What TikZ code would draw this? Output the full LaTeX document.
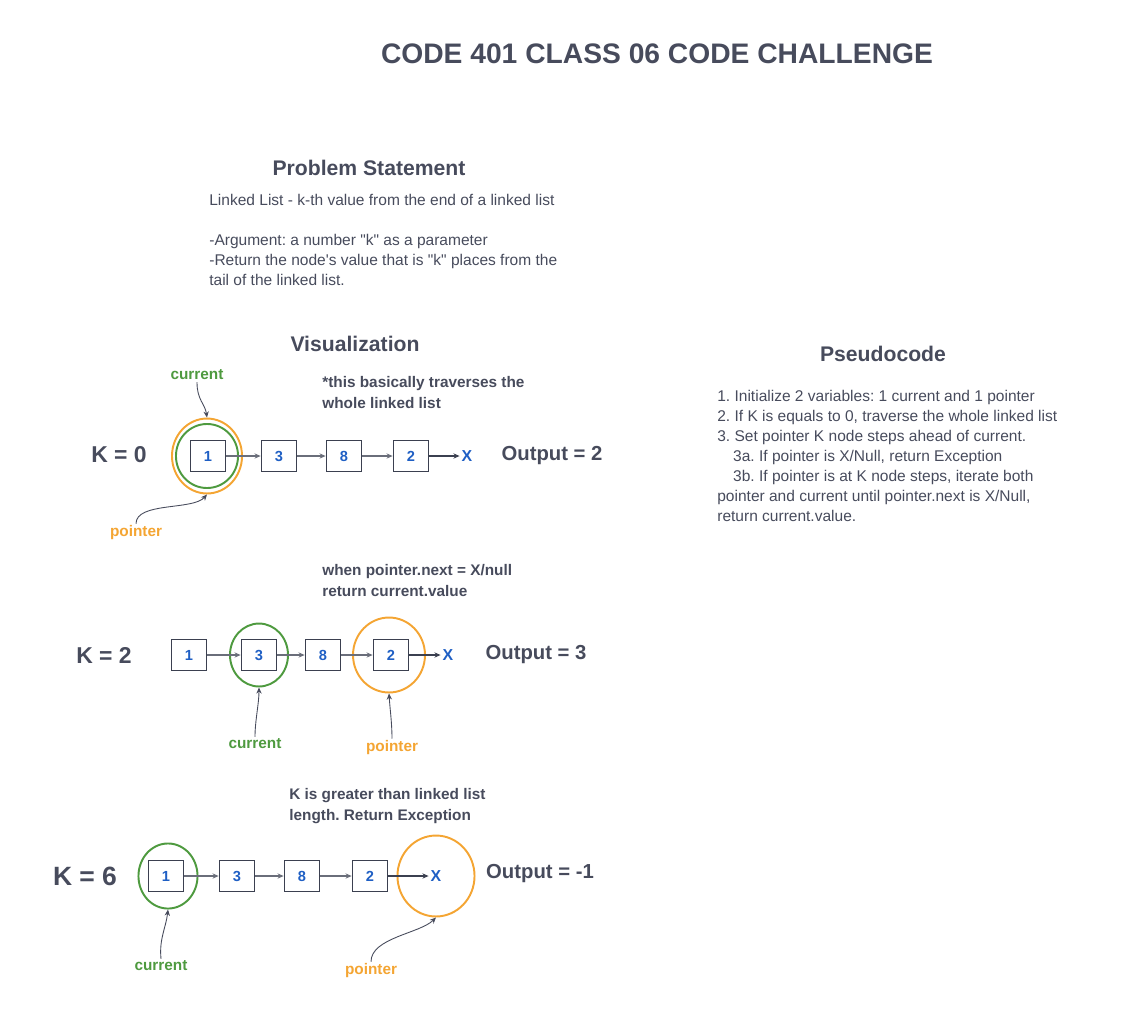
\documentclass[tikz,border=0pt]{standalone}
\usepackage{fontspec}
\setmainfont{Liberation Sans}
\usetikzlibrary{positioning,shapes.geometric,arrows.meta}
\definecolor{inkgray}{HTML}{474B5C}
\definecolor{valblue}{HTML}{1F5FC4}
\definecolor{curgreen}{HTML}{4E9A3F}
\definecolor{ptrorange}{HTML}{F4A533}
\definecolor{boxgray}{HTML}{3B4050}
\definecolor{linkgray}{HTML}{6A6E7A}
\frenchspacing

\begin{document}
\begin{tikzpicture}[x=0.567pt,y=-0.567pt]
  \tikzstyle{heading}=[text=inkgray, font=\bfseries\fontsize{12}{14}\selectfont]
  \tikzstyle{body}=[text=inkgray, font=\fontsize{8.8}{11.3}\selectfont, align=left, anchor=north west, inner sep=0pt]
  \tikzstyle{note}=[text=inkgray, font=\bfseries\fontsize{8.7}{11.8}\selectfont, align=left, anchor=north west, inner sep=0pt]
  \tikzstyle{kval}=[text=inkgray, font=\bfseries\fontsize{13}{15}\selectfont]
  \tikzstyle{result}=[text=inkgray, font=\bfseries\fontsize{11.5}{13}\selectfont]
  \tikzstyle{listnode}=[rectangle, draw=boxgray, line width=1pt, minimum width=19.8pt, minimum height=17.5pt, inner sep=0pt, text=valblue, font=\bfseries\fontsize{8.3}{9}\selectfont]
  \tikzstyle{nullend}=[text=valblue, font=\bfseries\fontsize{9}{10}\selectfont, inner sep=1pt]
  \tikzstyle{curring}=[ellipse, draw=curgreen, line width=1.1pt, inner sep=0pt]
  \tikzstyle{ptrring}=[ellipse, draw=ptrorange, line width=1.1pt, inner sep=0pt]
  \tikzstyle{curtag}=[text=curgreen, font=\bfseries\fontsize{8.7}{10}\selectfont, inner sep=1pt]
  \tikzstyle{ptrtag}=[text=ptrorange, font=\bfseries\fontsize{8.7}{10}\selectfont, inner sep=1pt]
  \tikzstyle{link}=[draw=linkgray, line width=0.6pt, -{Stealth[length=3.5pt,width=3pt]}]
  \tikzstyle{marker}=[draw=inkgray, line width=0.5pt, -{Stealth[length=3.5pt,width=3pt]}]

  \useasboundingbox (0,0) rectangle (1138,1025);

  % headings and text
  \node[text=inkgray, font=\bfseries\fontsize{16}{18}\selectfont] (title) at (657,54) {CODE 401 CLASS 06 CODE CHALLENGE};
  \node[heading] (problem) at (369,168) {Problem Statement};
  \node[body] (probtext) at (209,194) {Linked List - k-th value from the end of a linked list\\[11.3pt]
    -Argument: a number \textquotedbl k\textquotedbl{} as a parameter\\
    -Return the node\textquotesingle s value that is \textquotedbl k\textquotedbl{} places from the\\
    tail of the linked list.};
  \node[heading] (visual) at (355,344) {Visualization};
  \node[heading] (pseudo) at (883,354) {Pseudocode};
  \node[body] (pseudotext) at (717,390) {1. Initialize 2 variables: 1 current and 1 pointer\\
    2. If K is equals to 0, traverse the whole linked list\\
    3. Set pointer K node steps ahead of current.\\
    \hspace*{9pt}3a. If pointer is X/Null, return Exception\\
    \hspace*{9pt}3b. If pointer is at K node steps, iterate both\\
    pointer and current until pointer.next is X/Null,\\
    return current.value.};

  % K = 0
  \node[kval] (k0) at (119,455) {K = 0};
  \node[curring, minimum width=35.2pt, minimum height=36.3pt] (ringA1) at (207,456) {};
  \node[ptrring, minimum width=39.7pt, minimum height=42.5pt] (ringA2) at (207,456) {};
  \node[listnode] (a1) at (208,456) {1};
  \node[listnode] (a2) at (279,456) {3};
  \node[listnode] (a3) at (344,456) {8};
  \node[listnode] (a4) at (411,456) {2};
  \node[nullend] (xa) at (467,456) {X};
  \node[result] (outa) at (552,456) {Output = 2};
  \node[curtag] (cura) at (197,375) {current};
  \node[ptrtag] (ptra) at (136,533) {pointer};
  \node[note] (notea) at (322,376) {*this basically traverses the\\whole linked list};
  \draw[link] (a1) -- (a2);
  \draw[link] (a2) -- (a3);
  \draw[link] (a3) -- (a4);
  \draw[link, draw=boxgray] (a4) -- (xa);
  \draw[marker] (cura.south) .. controls +(0,18) and +(-2,-14) .. (ringA2.north);
  \draw[marker] (ptra.north) .. controls +(0,-22) and +(-14,16) .. (ringA2.south);

  % K = 2
  \node[kval] (k2) at (104,655) {K = 2};
  \node[curring, minimum width=32.9pt, minimum height=35.7pt] (ringB1) at (259,655) {};
  \node[ptrring, minimum width=40.8pt, minimum height=42.5pt] (ringB2) at (389,655) {};
  \node[listnode] (b1) at (189,655) {1};
  \node[listnode] (b2) at (259,655) {3};
  \node[listnode] (b3) at (323,655) {8};
  \node[listnode] (b4) at (391,655) {2};
  \node[nullend] (xb) at (448,655) {X};
  \node[result] (outb) at (536,655) {Output = 3};
  \node[curtag] (curb) at (255,744) {current};
  \node[ptrtag] (ptrb) at (392,748) {pointer};
  \node[note] (noteb) at (322,564) {when pointer.next = X/null\\return current.value};
  \draw[link] (b1) -- (b2);
  \draw[link] (b2) -- (b3);
  \draw[link] (b3) -- (b4);
  \draw[link, draw=boxgray] (b4) -- (xb);
  \draw[marker] (curb.north) .. controls +(0,-16) and +(0,16) .. (ringB1.south);
  \draw[marker] (ptrb.north) .. controls +(0,-16) and +(1,16) .. (ringB2.south);

  % K = 6
  \node[kval, font=\bfseries\fontsize{15}{17}\selectfont] (k6) at (85,876) {K = 6};
  \node[curring, minimum width=33.5pt, minimum height=36.9pt] (ringC1) at (168,876) {};
  \node[ptrring, minimum width=43.7pt, minimum height=45.9pt] (ringC2) at (436,876) {};
  \node[listnode] (c1) at (166,876) {1};
  \node[listnode] (c2) at (237,876) {3};
  \node[listnode] (c3) at (302,876) {8};
  \node[listnode] (c4) at (370,876) {2};
  \node[nullend] (xc) at (436,876) {X};
  \node[result] (outc) at (540,874) {Output = -1};
  \node[curtag] (curc) at (161,966) {current};
  \node[ptrtag] (ptrc) at (371,971) {pointer};
  \node[note] (notec) at (289,788) {K is greater than linked list\\length. Return Exception};
  \draw[link] (c1) -- (c2);
  \draw[link] (c2) -- (c3);
  \draw[link] (c3) -- (c4);
  \draw[link, draw=boxgray] (c4) -- (xc);
  \draw[marker] (curc.north) .. controls +(-2,-20) and +(-2,18) .. (ringC1.south);
  \draw[marker] (ptrc.north) .. controls +(0,-24) and +(-16,16) .. (ringC2.south);
\end{tikzpicture}
\end{document}
